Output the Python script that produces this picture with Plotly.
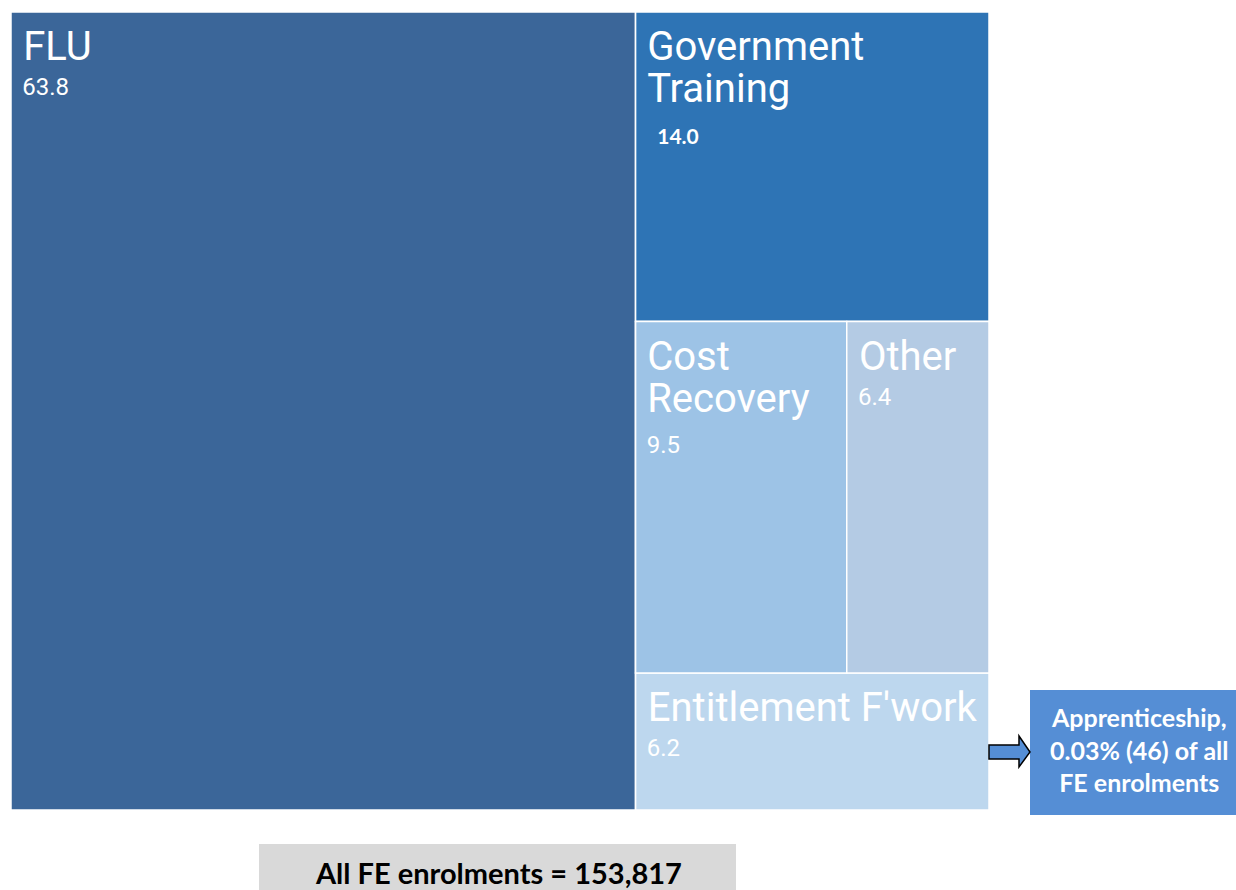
import plotly.graph_objects as go

# ---- data ----
categories = ["FLU", "Government<br>Training", "Cost<br>Recovery", "Other", "Entitlement F'work"]
shares = [63.8, 14.0, 9.5, 6.4, 6.2]
total_enrolments = 153817
apprenticeship_count = 46
apprenticeship_share = 0.03

W, H = 1236, 890
NB = "\u00a0"


# wrapped labels: indent the second line like the first one
def indent_lines(lbl):
    return lbl.replace("<br>", f"</span><br><span style='font-size:34.5px'>{NB}</span><span style='font-size:40px'>")


ids = ["FLU", "REST", "GT", "G3", "CR", "OTH", "ENT"]
labels = [indent_lines(categories[0]), "", indent_lines(categories[1]), "",
          indent_lines(categories[2]), categories[3], categories[4]]
parents = ["", "", "REST", "REST", "G3", "G3", "REST"]
values = [shares[0], 0, shares[1], 0, shares[2], shares[3], shares[4]]
colors = ["#3B6699", "#9DC3E6", "#2E74B5", "#9DC3E6", "#9DC3E6", "#B4CBE4", "#BDD7EE"]
# base font (controls line spacing) per node
base_sizes = [27, 27, 32, 27, 32, 27, 27]


def spacer(sz):
    return f"<sup><span style='font-size:{sz}px'>{NB}</span></sup>"


def lab(sz):
    return spacer(sz) + "<span style='font-size:40px'>%{label}</span>"


val = f"<span style='font-size:33px'>{NB}</span><span style='font-size:24px'>%{{value:.1f}}</span>"
val_gt = (f"<span style='font-size:35px'>{NB}</span><span style='font-size:40px'>{NB}</span>"
          "<b><span style='font-family:Lato;font-size:21px'>%{value:.1f}</span></b>")

templates = [
    lab(37) + "<br>" + val,
    " ",
    lab(34.5) + "<br>" + val_gt,
    " ",
    lab(34.5) + "<br>" + val,
    lab(37) + "<br>" + val,
    lab(37) + "<br>" + val,
]

fig = go.Figure(go.Treemap(
    ids=ids, labels=labels, parents=parents, values=values,
    branchvalues="remainder", sort=False,
    texttemplate=templates, textposition="top left",
    textfont=dict(family="Roboto", size=base_sizes, color="white"),
    marker=dict(colors=colors, line=dict(color="white", width=1.5),
                pad=dict(t=0, l=0, r=0, b=0)),
    tiling=dict(packing="slice-dice", pad=0),
    pathbar=dict(visible=False),
    hoverinfo="skip",
    domain=dict(x=[11 / W, 989 / W], y=[1 - 810 / H, 1 - 12 / H]),
))


def px(x):
    return x / W


def py(y):
    return 1 - y / H


shapes = [
    dict(type="rect", xref="paper", yref="paper", x0=px(1030), x1=px(1236), y0=py(815), y1=py(690),
         fillcolor="#558ED5", line=dict(width=0), layer="above"),
    dict(type="rect", xref="paper", yref="paper", x0=px(259), x1=px(736), y0=py(890), y1=py(844),
         fillcolor="#D9D9D9", line=dict(width=0), layer="above"),
]
arrow_pts = [(989, 745), (1019, 745), (1019, 736), (1030, 752), (1019, 767), (1019, 759), (989, 759)]
path = "M " + " L ".join(f"{px(x):.5f},{py(y):.5f}" for x, y in arrow_pts) + " Z"
shapes.append(dict(type="path", xref="paper", yref="paper", path=path,
                   fillcolor="#558ED5", line=dict(color="black", width=1.5), layer="above"))

annotations = [
    dict(xref="paper", yref="paper", x=px(1139), y=py(749), showarrow=False,
         text=f"<b>Apprenticeship,<br>{apprenticeship_share:.2f}% ({apprenticeship_count}) of all<br>FE enrolments</b>",
         font=dict(family="Lato", size=25, color="white"), align="center",
         xanchor="center", yanchor="middle"),
    dict(xref="paper", yref="paper", x=px(498), y=py(872), showarrow=False,
         text=f"<b>All FE enrolments = {total_enrolments:,}</b>",
         font=dict(family="Lato", size=29, color="black"), borderpad=0,
         xanchor="center", yanchor="middle"),
]

fig.update_layout(
    width=W, height=H, margin=dict(l=0, r=0, t=0, b=0),
    paper_bgcolor="white", plot_bgcolor="white",
    shapes=shapes, annotations=annotations, showlegend=False,
)

fig.write_html("out.html", config={"displayModeBar": False},
               post_script="document.body.style.margin='0';document.body.style.overflow='hidden';")
